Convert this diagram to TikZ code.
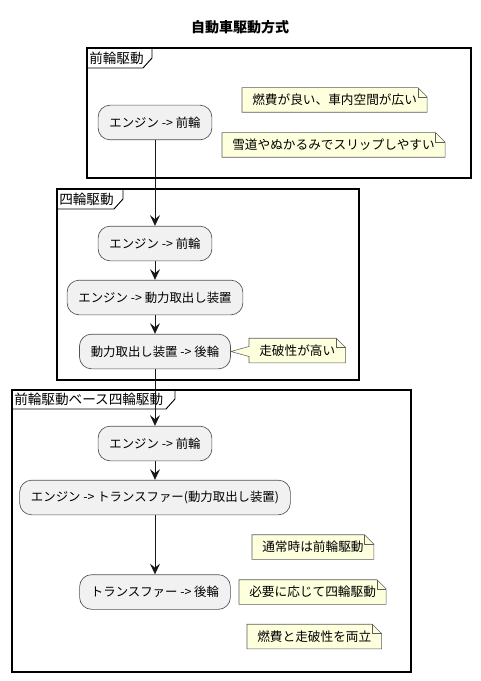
\documentclass[tikz,border=0pt]{standalone}
\usepackage{fontspec}
\setmainfont{Noto Sans CJK JP}
\usetikzlibrary{
  arrows.meta,
  calc,
  positioning,
  backgrounds
}
\definecolor{actfill}{HTML}{F1F1F1}
\definecolor{notefill}{HTML}{FEFFDD}
\definecolor{lineblk}{HTML}{181818}

\tikzset{
  act/.style={draw=lineblk!75, line width=0.5pt, fill=actfill, rounded corners=9pt,
    minimum height=26pt, inner xsep=8.5pt, font=\fontsize{9.3}{11}\selectfont},
  memo/.style={anchor=west, inner xsep=7.5pt, minimum height=18pt, font=\fontsize{9.5}{11}\selectfont},
  memoline/.style={draw=lineblk!70, fill=notefill, line width=0.4pt},
  flow/.style={-{Stealth[length=8pt,width=7.5pt,inset=3pt]}, line width=0.75pt, lineblk},
  frame/.style={line width=1.1pt},
  tabline/.style={line width=0.7pt},
  tablabel/.style={anchor=west, inner sep=0pt, font=\fontsize{10.2}{12}\selectfont}
}

% folded note outline behind a named node
\newcommand\memobox[1]{%
  \begin{scope}[on background layer]
    \path[memoline] (#1.south west) -- (#1.north west) -- ([xshift=-7pt]#1.north east)
      -- ([yshift=-7pt]#1.north east) -- (#1.south east) -- cycle;
    \draw[lineblk!70, line width=0.4pt] ([xshift=-7pt]#1.north east) |- ([yshift=-7pt]#1.north east);
  \end{scope}}

\begin{document}
\begin{tikzpicture}[x=0.75pt, y=-0.75pt]
  \useasboundingbox (0,0) rectangle (480,681);

  % Title
  \node[font=\fontsize{10.5}{12}\selectfont\bfseries] (title) at (240,27) {自動車駆動方式};

  % Partition 1: 前輪駆動
  \draw[frame] (87,48) rectangle (471,178);
  \draw[tabline] (87,68) -- (143,68) -- (152,58) -- (152,48);
  \node[tablabel] (tabfwd) at (89,58) {前輪駆動};

  % Partition 2: 四輪駆動
  \draw[frame] (57,189) rectangle (359,380);
  \draw[tabline] (57,209) -- (114,209) -- (123,199) -- (123,189);
  \node[tablabel] (tabawd) at (59,199) {四輪駆動};

  % Partition 3: 前輪駆動ベース四輪駆動
  \draw[frame] (12,390) rectangle (411,672);
  \draw[tabline] (12,409) -- (166,409) -- (175,399) -- (175,390);
  \node[tablabel] (tabbase) at (14,399.5) {前輪駆動ベース四輪駆動};

  % Activities
  \node[act] (fwdA) at (155,122.5) {エンジン -> 前輪};
  \node[act] (awdA) at (155,243.5) {エンジン -> 前輪};
  \node[act] (awdB) at (155,297.5) {エンジン -> 動力取出し装置};
  \node[act] (awdC) at (155,351.5) {動力取出し装置 -> 後輪};
  \node[act] (baseA) at (155,443.5) {エンジン -> 前輪};
  \node[act] (baseB) at (155,497.5) {エンジン -> トランスファー(動力取出し装置)};
  \node[act] (baseC) at (155,592) {トランスファー -> 後輪};

  % Notes
  \node[memo] (fuelnote) at (242,100) {燃費が良い、車内空間が広い};
  \memobox{fuelnote}
  \node[memo] (slipnote) at (222,145) {雪道やぬかるみでスリップしやすい};
  \memobox{slipnote}
  \node[memo] (roughnote) at (249,350.5) {走破性が高い};
  \begin{scope}[on background layer]
    \path[memoline] (roughnote.south west) -- ($(roughnote.west)+(0,6)$) -- (awdC.east)
      -- ($(roughnote.west)+(0,-4)$) -- (roughnote.north west) -- ([xshift=-7pt]roughnote.north east)
      -- ([yshift=-7pt]roughnote.north east) -- (roughnote.south east) -- cycle;
    \draw[lineblk!70, line width=0.4pt] ([xshift=-7pt]roughnote.north east) |- ([yshift=-7pt]roughnote.north east);
  \end{scope}
  \node[memo] (normnote) at (252,547) {通常時は前輪駆動};
  \memobox{normnote}
  \node[memo] (neednote) at (239,592) {必要に応じて四輪駆動};
  \memobox{neednote}
  \node[memo] (bothnote) at (247,636.5) {燃費と走破性を両立};
  \memobox{bothnote}

  % Flow
  \draw[flow] (fwdA) -- (awdA);
  \draw[flow] (awdA) -- (awdB);
  \draw[flow] (awdB) -- (awdC);
  \draw[flow] (awdC) -- (baseA);
  \draw[flow] (baseA) -- (baseB);
  \draw[flow] (baseB) -- (baseC);
\end{tikzpicture}
\end{document}
